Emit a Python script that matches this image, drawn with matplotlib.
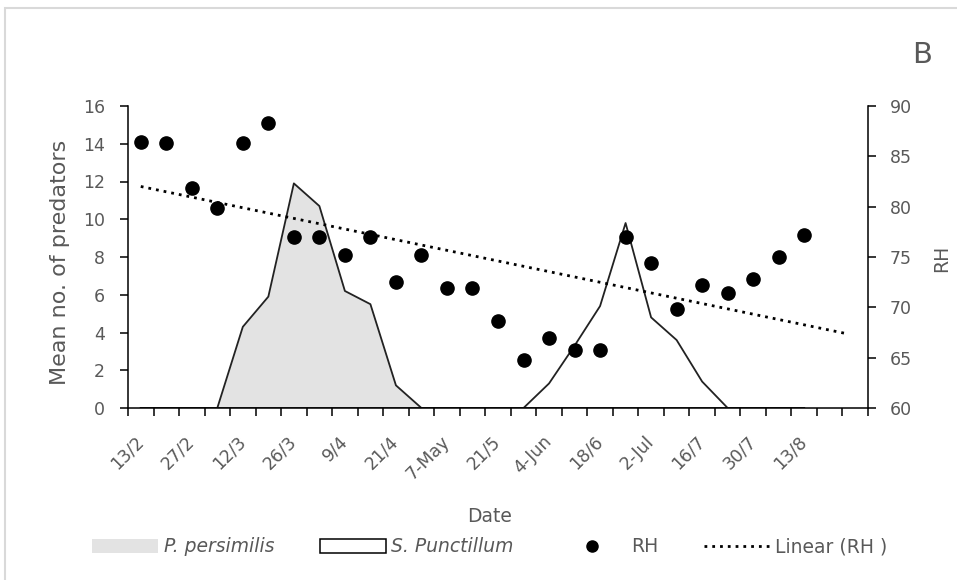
import numpy as np
import matplotlib.pyplot as plt
from matplotlib.patches import Patch, Rectangle
from matplotlib.lines import Line2D

# category axis: 29 sampling dates, every second one labelled
n_cat = 29
tick_labels = ['13/2', '27/2', '12/3', '26/3', '9/4', '21/4', '7-May', '21/5',
               '4-Jun', '18/6', '2-Jul', '16/7', '30/7', '13/8']

# relative humidity (right axis)
rh = [86.4, 86.3, 81.9, 79.9, 86.3, 88.3, 77.0, 77.0, 75.2, 77.0, 72.5, 75.2,
      71.9, 71.9, 68.6, 64.8, 67.0, 65.8, 65.8, 77.0, 74.4, 69.8, 72.2, 71.4,
      72.8, 75.0, 77.2]

# mean number of predators (left axis)
p_persimilis = [0, 0, 0, 0, 4.3, 5.9, 11.9, 10.7, 6.2, 5.5, 1.2, 0, 0, 0,
                0, 0, 0, 0, 0, 0, 0, 0, 0, 0, 0, 0, 0]
s_punctillum = [0, 0, 0, 0, 0, 0, 0, 0, 0, 0, 0, 0, 0, 0,
                0, 0, 1.3, 3.3, 5.4, 9.8, 4.8, 3.6, 1.4, 0, 0, 0, 0]

forward = 1.7  # trendline forecast, in periods

grey = '#595959'
x = np.arange(len(rh))

fig = plt.figure(figsize=(9.57, 5.80), dpi=100)
ax = fig.add_axes([128/957, 1 - 408/580, 740/957, 302/580])
ax2 = ax.twinx()

# areas
ax.fill_between(x, p_persimilis, color='#e3e3e3', lw=0)
ax.plot(x, p_persimilis, color='#222222', lw=1.3)
ax.fill_between(x, s_punctillum, color='white', lw=0)
ax.plot(x, s_punctillum, color='#222222', lw=1.3)

# RH points and linear trend
ax2.plot(x, rh, 'o', color='black', ms=9.5)
slope, intercept = np.polyfit(x, rh, 1)
xt = np.array([0, x[-1] + forward])
ax2.plot(xt, intercept + slope * xt, color='black', lw=2, ls=(0, (1, 1.8)))

ax.set_xlim(-0.5, n_cat - 0.5)
ax.set_ylim(0, 16)
ax.set_yticks(range(0, 17, 2))
ax2.set_ylim(60, 90)
ax2.set_yticks(range(60, 91, 5))

ax.set_xticks(np.arange(n_cat + 1) - 0.5)
ax.set_xticklabels([])
ax.set_xticks(np.arange(0, 2 * len(tick_labels), 2), minor=True)
ax.set_xticklabels(tick_labels, minor=True, rotation=45, ha='right',
                   va='center', rotation_mode='anchor')
ax.tick_params(axis='x', which='major', direction='out', length=5.5, width=1.1)
ax.tick_params(axis='x', which='minor', length=0, pad=22, labelsize=12.5,
               labelcolor=grey)
ax.tick_params(axis='y', direction='out', length=5.5, width=1.1,
               labelsize=12.5, labelcolor=grey, pad=11)
ax2.tick_params(axis='y', direction='out', length=5.5, width=1.1,
                labelsize=12.5, labelcolor=grey, pad=10)

for s in ['top', 'right']:
    ax.spines[s].set_visible(False)
for s in ['top', 'left', 'bottom']:
    ax2.spines[s].set_visible(False)
for sp in [ax.spines['left'], ax.spines['bottom'], ax2.spines['right']]:
    sp.set_linewidth(1.1)

fig.text(60/957, 1 - 262/580, 'Mean no. of predators', rotation=90,
         ha='center', va='center', fontsize=16, color=grey)
fig.text(942/957, 1 - 258/580, 'RH', rotation=90, ha='center', va='center',
         fontsize=13.5, color=grey)
fig.text(490/957, 1 - 516/580, 'Date', ha='center', va='center',
         fontsize=13.5, color=grey)
fig.text(922/957, 1 - 55/580, 'B', ha='center', va='center',
         fontsize=21, color=grey)

handles = [Patch(facecolor='#e3e3e3', edgecolor='none'),
           Patch(facecolor='white', edgecolor='black', lw=1.1),
           Line2D([], [], ls='none', marker='o', color='black', ms=8),
           Line2D([], [], color='black', lw=2, ls=(0, (1, 1.8)))]
labels = ['P. persimilis', 'S. Punctillum', 'RH', 'Linear (RH )']
leg = fig.legend(handles, labels, loc='center',
                 bbox_to_anchor=(490/957, 1 - 547/580), ncol=4, frameon=False,
                 fontsize=13.5, handlelength=3.5, handleheight=0.75,
                 handletextpad=0.3, columnspacing=2.45, borderpad=0,
                 labelcolor=grey)
for t in leg.get_texts()[:2]:
    t.set_style('italic')

fig.patches.append(Rectangle((5/957, -0.05), 1.1, 1 - 8/580 + 0.05,
                             transform=fig.transFigure, fill=False,
                             edgecolor='#d9d9d9', lw=1.5))

fig.savefig('out.png', dpi=100)
